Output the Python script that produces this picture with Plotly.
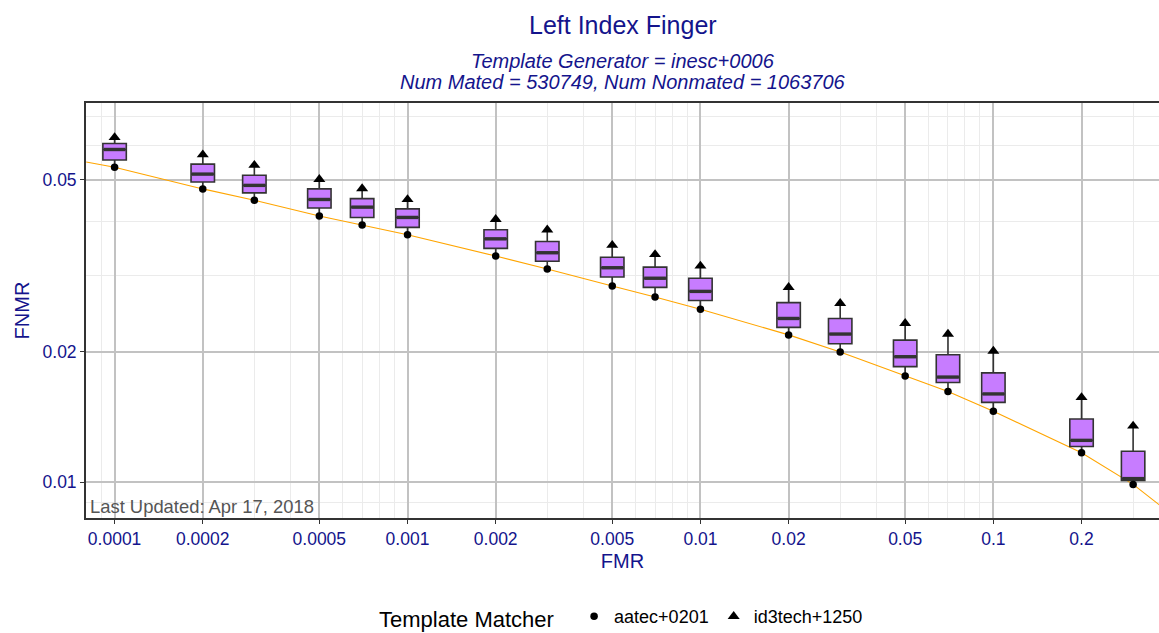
import numpy as np
import plotly.graph_objects as go

# ---------------- data ----------------
fmr = [0.0001, 0.0002, 0.0003, 0.0005, 0.0007, 0.001, 0.002, 0.003, 0.005,
       0.007, 0.01, 0.02, 0.03, 0.05, 0.07, 0.1, 0.2, 0.3]
fnmr_aatec = [0.0534, 0.0476, 0.0448, 0.0412, 0.0393, 0.0373, 0.0333, 0.0311, 0.0284,
              0.0268, 0.0251, 0.0219, 0.0200, 0.0176, 0.0162, 0.0146, 0.0117, 0.00989]
fnmr_id3tech = [0.0626, 0.0571, 0.0540, 0.0501, 0.0477, 0.0450, 0.0405, 0.0383, 0.0353,
                0.0336, 0.0316, 0.0282, 0.0259, 0.0233, 0.0220, 0.0201, 0.0157, 0.0135]
box_q1 = [0.0555, 0.0494, 0.0466, 0.0430, 0.0409, 0.0388, 0.0347, 0.0324, 0.0298,
          0.0282, 0.0263, 0.0228, 0.0209, 0.0185, 0.0170, 0.0153, 0.0121, 0.0101]
box_median = [0.0587, 0.0515, 0.0485, 0.0450, 0.0432, 0.0409, 0.0365, 0.0339, 0.0313,
              0.0296, 0.0276, 0.0239, 0.0220, 0.0195, 0.0175, 0.0160, 0.0125, 0.0102]
box_q3 = [0.0606, 0.0543, 0.0512, 0.0476, 0.0452, 0.0428, 0.0383, 0.0360, 0.0331,
          0.0314, 0.0296, 0.0260, 0.0239, 0.0213, 0.0197, 0.0179, 0.0140, 0.0118]

curve_fmr = [0.00008, 0.0001, 0.0002, 0.0003, 0.0005, 0.0007, 0.001, 0.002, 0.003, 0.005,
             0.007, 0.01, 0.02, 0.03, 0.05, 0.07, 0.1, 0.2, 0.3, 0.37]
curve_fnmr = [0.0549, 0.0534, 0.0476, 0.0448, 0.0412, 0.0393, 0.0373, 0.0333, 0.0311, 0.0284,
              0.0268, 0.0251, 0.0219, 0.0200, 0.0176, 0.0162, 0.0146, 0.0117, 0.00989, 0.00885]

x_ticks = [0.0001, 0.0002, 0.0005, 0.001, 0.002, 0.005, 0.01, 0.02, 0.05, 0.1, 0.2]
x_ticktext = ["0.0001", "0.0002", "0.0005", "0.001", "0.002", "0.005", "0.01", "0.02",
              "0.05", "0.1", "0.2"]
x_minor = [0.00009, 0.0003, 0.0004, 0.0006, 0.0007, 0.0008, 0.0009, 0.003, 0.004, 0.006,
           0.007, 0.008, 0.009, 0.03, 0.04, 0.06, 0.07, 0.08, 0.09, 0.3, 0.4]
y_ticks = [0.01, 0.02, 0.05]
y_ticktext = ["0.01", "0.02", "0.05"]
y_minor = [0.009, 0.03, 0.04, 0.06, 0.07]

title = "Left Index Finger"
subtitle1 = "Template Generator = inesc+0006"
subtitle2 = "Num Mated = 530749, Num Nonmated = 1063706"
updated = "Last Updated: Apr 17, 2018"

# ---------------- style ----------------
BLUE = "#14148c"
FONT = "Liberation Sans, Arial, sans-serif"
XRANGE = [-4.0976, -0.4345]
YRANGE = [-2.0824, -1.124]
logpos = np.log10(fmr)

fig = go.Figure()

fig.add_trace(go.Scatter(
    x=curve_fmr, y=curve_fnmr, mode="lines",
    line=dict(color="#FFA500", width=1.1), showlegend=False, hoverinfo="skip",
    xaxis="x", yaxis="y"))

fig.add_trace(go.Box(
    x=logpos, q1=box_q1, median=box_median, q3=box_q3,
    lowerfence=fnmr_aatec, upperfence=fnmr_id3tech,
    width=0.08, whiskerwidth=0, boxpoints=False,
    fillcolor="#C77CFF", line=dict(color="#333333", width=1.6),
    showlegend=False, xaxis="x2", yaxis="y"))

fig.add_trace(go.Scatter(
    x=logpos, y=box_median, mode="markers",
    marker=dict(symbol="line-ew", size=15.5, line=dict(color="#333333", width=3.4)),
    showlegend=False, hoverinfo="skip", xaxis="x2", yaxis="y"))

fig.add_trace(go.Scatter(
    x=logpos, y=fnmr_aatec, mode="markers", name="aatec+0201",
    marker=dict(symbol="circle", size=7.5, color="black"),
    xaxis="x2", yaxis="y"))

fig.add_trace(go.Scatter(
    x=logpos, y=fnmr_id3tech, mode="markers", name="id3tech+1250",
    marker=dict(symbol="triangle-up", size=10.5, color="black"),
    xaxis="x2", yaxis="y"))

axis_common = dict(
    showline=True, linecolor="#333333", linewidth=1.8,
    ticks="outside", ticklen=4, tickcolor="#333333", tickwidth=1.2,
    gridcolor="#C2C2C2", gridwidth=1.6, zeroline=False, automargin=False,
    tickfont=dict(family=FONT, size=17.5, color=BLUE),
)

fig.update_layout(
    width=1159, height=633,
    margin=dict(l=86, r=0, t=103, b=115, autoexpand=False),
    paper_bgcolor="white", plot_bgcolor="white",
    font=dict(family=FONT, color=BLUE),
    xaxis=dict(
        type="log", range=XRANGE, tickmode="array", tickvals=x_ticks, ticktext=x_ticktext,
        mirror=True,
        minor=dict(tickmode="array", tickvals=x_minor, showgrid=True,
                   gridcolor="#EBEBEB", gridwidth=1, ticklen=0),
        title=dict(text="FMR", font=dict(family=FONT, size=20, color=BLUE), standoff=6),
        **axis_common),
    xaxis2=dict(type="linear", range=XRANGE, overlaying="x", visible=False),
    yaxis=dict(
        type="log", range=YRANGE, tickmode="array", tickvals=y_ticks, ticktext=y_ticktext,
        mirror=False,
        minor=dict(tickmode="array", tickvals=y_minor, showgrid=True,
                   gridcolor="#EBEBEB", gridwidth=1, ticklen=0),
        title=dict(text="FNMR", font=dict(family=FONT, size=20, color=BLUE), standoff=8),
        **axis_common),
    legend=dict(
        orientation="h", x=0.5, xanchor="center", y=-0.24, yanchor="middle",
        title=dict(text="Template Matcher  ", font=dict(family=FONT, size=22, color="black")),
        font=dict(family=FONT, size=18, color="black"),
        itemwidth=30, bgcolor="rgba(0,0,0,0)"),
    showlegend=True,
)

fig.add_annotation(text=title, xref="paper", yref="paper", x=0.5, y=1.188,
                   xanchor="center", yanchor="middle", showarrow=False,
                   font=dict(family=FONT, size=25, color=BLUE))
fig.add_annotation(text="<i>" + subtitle1 + "</i>", xref="paper", yref="paper", x=0.5, y=1.101,
                   xanchor="center", yanchor="middle", showarrow=False,
                   font=dict(family=FONT, size=20, color=BLUE))
fig.add_annotation(text="<i>" + subtitle2 + "</i>", xref="paper", yref="paper", x=0.5, y=1.05,
                   xanchor="center", yanchor="middle", showarrow=False,
                   font=dict(family=FONT, size=20, color=BLUE))
fig.add_annotation(text=updated, xref="paper", yref="paper", x=0, y=0,
                   xanchor="left", yanchor="bottom", xshift=2, yshift=-1, showarrow=False,
                   font=dict(family=FONT, size=18.4, color="#555555"))

fig.write_html(
    "out.html",
    config={"displayModeBar": False},
    post_script="document.body.style.margin='0px';document.body.style.overflow='hidden';",
)
